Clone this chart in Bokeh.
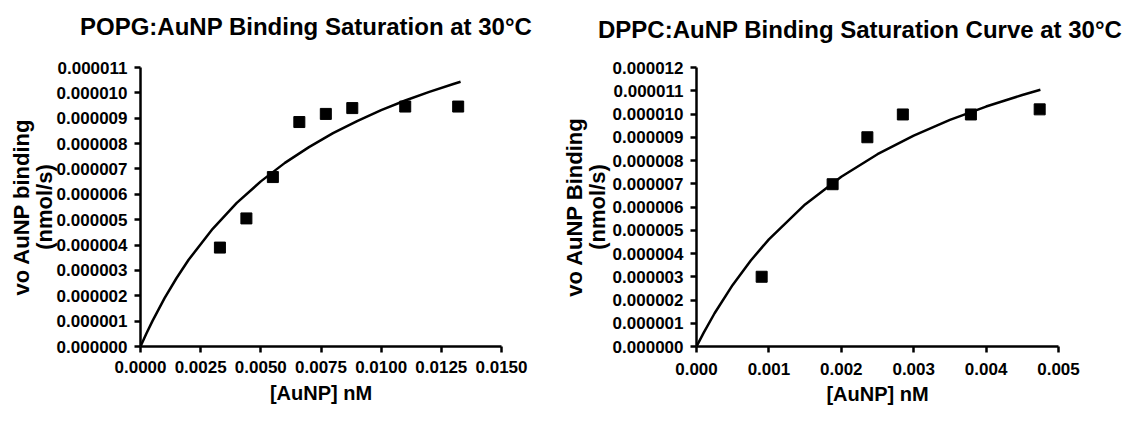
from bokeh.plotting import figure
from bokeh.layouts import row, column
from bokeh.models import FixedTicker, PrintfTickFormatter, Range1d, Div
from bokeh.embed import file_html
from bokeh.resources import INLINE

# ---- POPG data ----
popg_title = "POPG:AuNP Binding Saturation at 30°C"
popg_x = [0.0033, 0.0044, 0.0055, 0.0066, 0.0077, 0.0088, 0.0110, 0.0132]
popg_y = [3.90e-6, 5.05e-6, 6.68e-6, 8.85e-6, 9.17e-6, 9.40e-6, 9.46e-6, 9.46e-6]
popg_fit_x = [0, 0.00025, 0.0005, 0.001, 0.0015, 0.002, 0.003, 0.004, 0.005,
              0.006, 0.007, 0.008, 0.009, 0.010, 0.011, 0.012, 0.013, 0.0133]
popg_fit_y = [0, 0.52e-6, 1.01e-6, 1.91e-6, 2.70e-6, 3.42e-6, 4.64e-6, 5.66e-6, 6.51e-6,
              7.24e-6, 7.86e-6, 8.41e-6, 8.89e-6, 9.32e-6, 9.70e-6, 10.04e-6, 10.35e-6, 10.44e-6]
popg_xticks = [0.0, 0.0025, 0.005, 0.0075, 0.01, 0.0125, 0.015]
popg_yticks = [0, 1e-6, 2e-6, 3e-6, 4e-6, 5e-6, 6e-6, 7e-6, 8e-6, 9e-6, 10e-6, 11e-6]

# ---- DPPC data ----
dppc_title = "DPPC:AuNP Binding Saturation Curve at 30°C"
dppc_x = [0.0009, 0.00188, 0.00236, 0.00285, 0.00379, 0.00474]
dppc_y = [3.0e-6, 6.98e-6, 9.0e-6, 9.98e-6, 9.98e-6, 10.2e-6]
dppc_fit_x = [0, 0.0001, 0.00025, 0.0005, 0.00075, 0.001, 0.0015, 0.002, 0.0025,
              0.003, 0.0035, 0.004, 0.0045, 0.00475]
dppc_fit_y = [0, 0.60e-6, 1.43e-6, 2.65e-6, 3.70e-6, 4.61e-6, 6.11e-6, 7.30e-6, 8.27e-6,
              9.07e-6, 9.75e-6, 10.32e-6, 10.82e-6, 11.04e-6]
dppc_xticks = [0.0, 0.001, 0.002, 0.003, 0.004, 0.005]
dppc_yticks = [0, 1e-6, 2e-6, 3e-6, 4e-6, 5e-6, 6e-6, 7e-6, 8e-6, 9e-6, 10e-6, 11e-6, 12e-6]

FONT = "Liberation Sans"


def make(ylabel, xs, ys, fx, fy, xticks, yticks, xfmt, xmax, ymax,
         w, h, ml, br, bt, bb, xls, xas, yas):
    p = figure(output_backend="svg", toolbar_location=None,
               width=w, height=h, margin=(0, 0, 0, ml),
               min_border_left=60, min_border_right=br,
               min_border_top=bt, min_border_bottom=bb,
               x_range=Range1d(0, xmax), y_range=Range1d(0, ymax))
    p.outline_line_color = None
    p.grid.visible = False
    p.background_fill_color = "white"
    p.border_fill_color = "white"

    for ax in (p.xaxis[0], p.yaxis[0]):
        ax.axis_line_width = 2.5
        ax.axis_line_color = "black"
        ax.major_tick_line_width = 2.5
        ax.major_tick_line_color = "black"
        ax.major_tick_out = 6
        ax.major_tick_in = 0
        ax.minor_tick_out = 0
        ax.minor_tick_in = 0
        ax.major_label_text_font = FONT
        ax.major_label_text_font_style = "bold"
        ax.major_label_text_font_size = "17px"
        ax.major_label_text_color = "black"
        ax.axis_label_text_font = FONT
        ax.axis_label_text_font_style = "bold"
        ax.axis_label_text_color = "black"
        ax.axis_label_text_line_height = 0.9

    p.xaxis.major_label_text_line_height = 1.0
    p.xaxis.axis_label_text_font_size = "20px"
    p.yaxis.axis_label_text_font_size = "22px"
    p.xaxis.ticker = FixedTicker(ticks=xticks)
    p.yaxis.ticker = FixedTicker(ticks=yticks)
    p.xaxis.formatter = PrintfTickFormatter(format=xfmt)
    p.yaxis.formatter = PrintfTickFormatter(format="%.6f")
    p.xaxis.axis_label = "[AuNP] nM"
    p.yaxis.axis_label = ylabel
    p.xaxis.major_label_standoff = xls
    p.xaxis.axis_label_standoff = xas
    p.yaxis.major_label_standoff = 7
    p.yaxis.axis_label_standoff = yas

    p.line(fx, fy, line_color="black", line_width=2.5)
    p.scatter(xs, ys, marker="square", size=11, fill_color="black", line_color="black")
    return p


def title_div(text, w, h, pl, pt):
    html = ('<div style="padding-left:%dpx; padding-top:%dpx; font-family:\'Liberation Sans\', '
            'Arial, sans-serif; font-weight:bold; font-size:24px; line-height:27px; '
            'white-space:nowrap; color:black; margin:0;">%s</div>') % (pl, pt, text)
    return Div(text=html, width=w, height=h, margin=0)


p1 = make("vo AuNP binding\n(nmol/s)",
          popg_x, popg_y, popg_fit_x, popg_fit_y, popg_xticks, popg_yticks, "%.4f",
          0.015, 11e-6, 546, 363, 6, 51, 18, 60, 8, 6, -3)
p2 = make("vo AuNP Binding\n(nmol/s)",
          dppc_x, dppc_y, dppc_fit_x, dppc_fit_y, dppc_xticks, dppc_yticks, "%.3f",
          0.005, 12e-6, 549, 363, 7, 50, 23, 59, 10, 5, 0)

d1 = title_div(popg_title, 552, 44, 80, 13)
d2 = title_div(dppc_title, 556, 44, 46, 16)

layout = column(row(d1, d2, spacing=0), row(p1, p2, spacing=0), spacing=0)
open("out.html", "w").write(file_html(layout, INLINE))
